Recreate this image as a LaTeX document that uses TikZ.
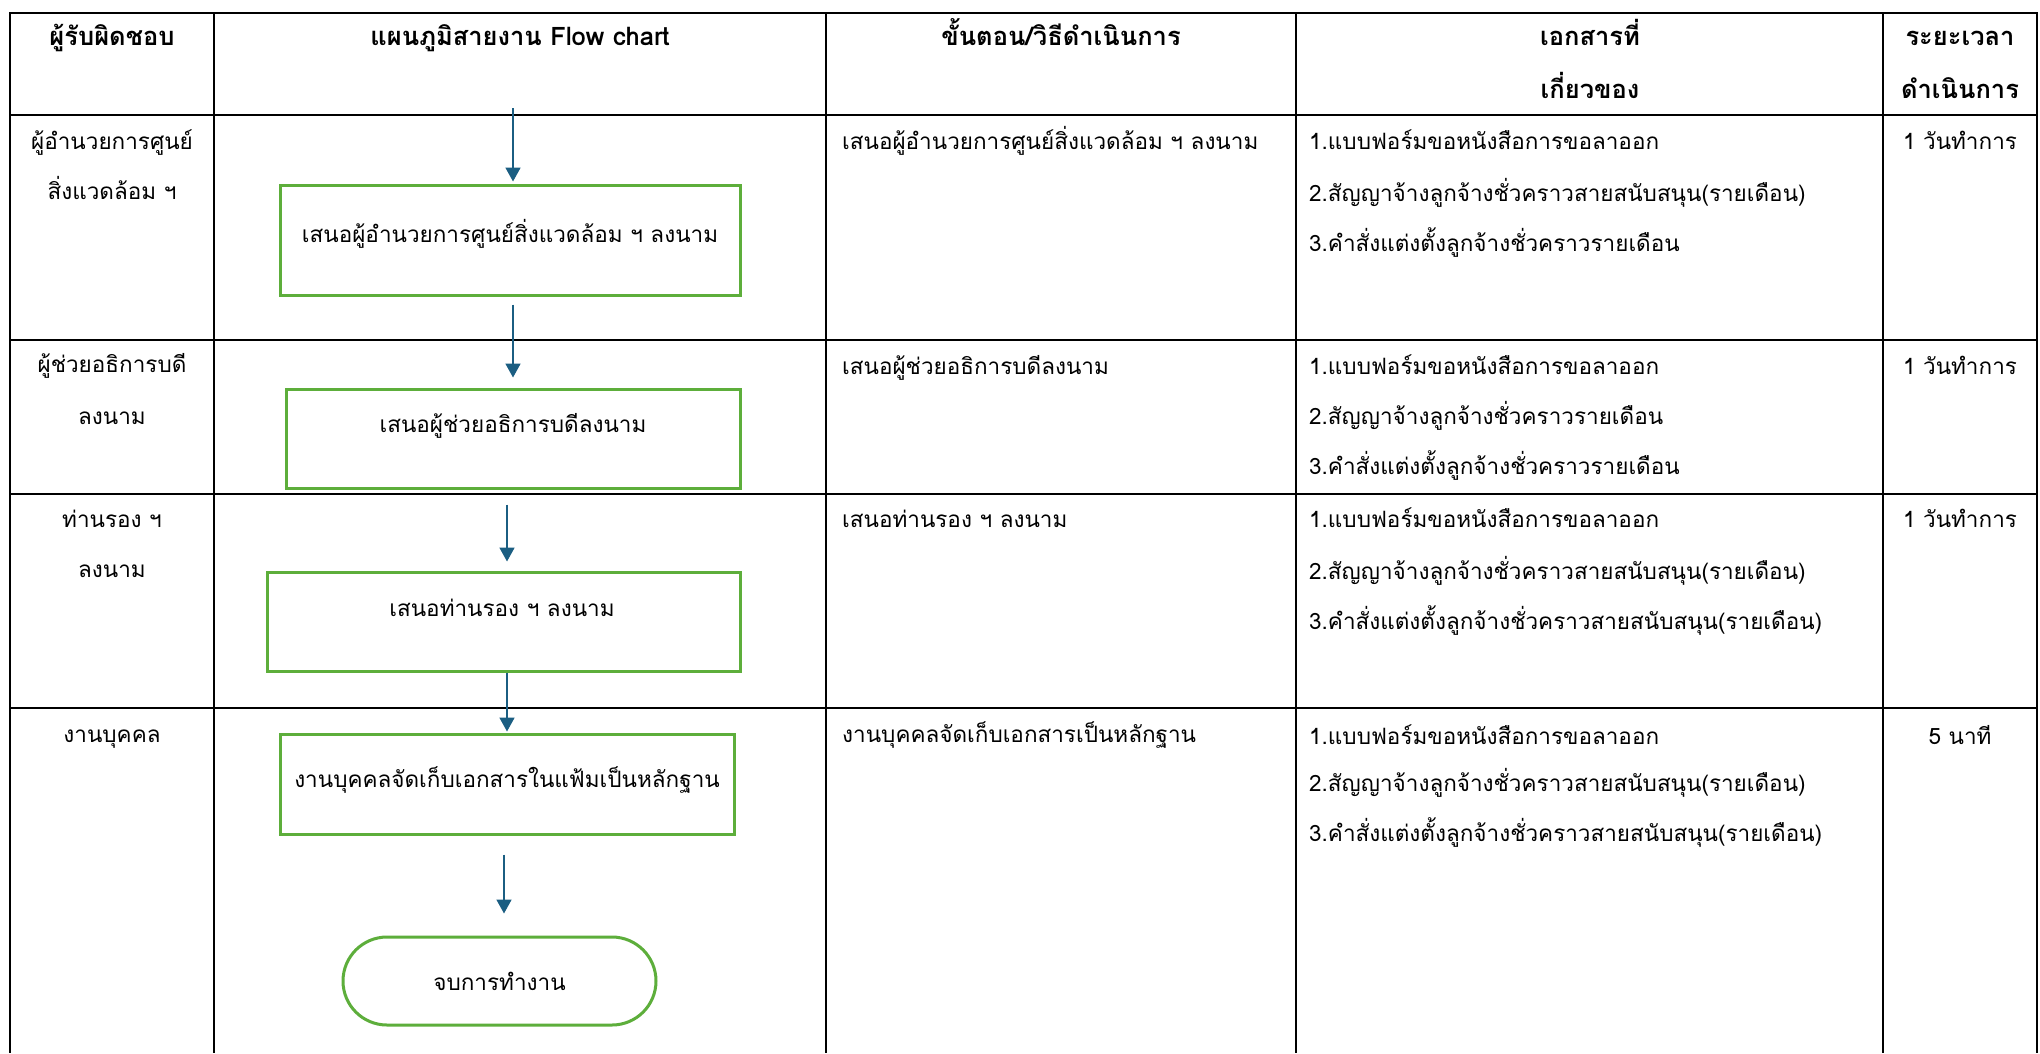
\documentclass[tikz,border=0pt]{standalone}
\usepackage{fontspec}
\setmainfont[Script=Thai]{Loma}
\usetikzlibrary{arrows.meta}
\definecolor{flowgreen}{HTML}{5DAE3B}
\definecolor{flowblue}{HTML}{1B5E82}
\newcommand{\cellfont}{\fontsize{22.5pt}{27pt}\selectfont}
\newcommand{\headfont}{\fontsize{25.5pt}{30pt}\selectfont\bfseries}
\tikzset{
  x=1pt, y=-1pt,
  rule/.style={line width=2.8pt, black},
  stepbox/.style={draw=flowgreen, line width=3pt, inner sep=0pt},
  endbox/.style={draw=flowgreen, line width=3pt, rounded corners=44pt, inner sep=0pt,
    minimum width=313pt, minimum height=88pt, font=\cellfont},
  flow/.style={draw=flowblue, line width=1.8pt, -{Triangle[length=14pt,width=15pt]}},
  txtc/.style={anchor=base, inner sep=0pt, font=\cellfont},
  txtl/.style={anchor=base west, inner sep=0pt, font=\cellfont},
  head/.style={anchor=base, inner sep=0pt, font=\headfont},
}
\begin{document}
\begin{tikzpicture}
\useasboundingbox (0,0) rectangle (2040,1053);
\fill[white] (0,0) rectangle (2040,1053);

% table rules
\foreach \x in {10,214,826,1296,1883,2037}
  \draw[rule] (\x,12) -- (\x,1053);
\foreach \y in {13,115,340,494,708}
  \draw[rule] (9,\y) -- (2038,\y);

% header
\node[head] (h1) at (112,45) {ผู้รับผิดชอบ};
\node[head] (h2) at (520,45) {แผนภูมิสายงาน Flow chart};
\node[head] (h3) at (1061,45) {ขั้นตอน/วิธีดำเนินการ};
\node[head] (h4a) at (1590,45) {เอกสารที่};
\node[head] (h4b) at (1590,98) {เกี่ยวของ};
\node[head] (h5a) at (1960,45) {ระยะเวลา};
\node[head] (h5b) at (1960,98) {ดำเนินการ};

% responsible
\node[txtc] (r1a) at (112,149) {ผู้อำนวยการศูนย์};
\node[txtc] (r1b) at (112,199) {สิ่งแวดล้อม ฯ};
\node[txtc] (r2a) at (112,372) {ผู้ช่วยอธิการบดี};
\node[txtc] (r2b) at (112,424) {ลงนาม};
\node[txtc] (r3a) at (112,527) {ท่านรอง ฯ};
\node[txtc] (r3b) at (112,577) {ลงนาม};
\node[txtc] (r4a) at (112,742) {งานบุคคล};

% procedure
\node[txtl] (p1) at (842,149) {เสนอผู้อำนวยการศูนย์สิ่งแวดล้อม ฯ ลงนาม};
\node[txtl] (p2) at (842,374) {เสนอผู้ช่วยอธิการบดีลงนาม};
\node[txtl] (p3) at (842,527) {เสนอท่านรอง ฯ ลงนาม};
\node[txtl] (p4) at (842,742) {งานบุคคลจัดเก็บเอกสารเป็นหลักฐาน};

% documents
\node[txtl] (d11) at (1309,149) {1.แบบฟอร์มขอหนังสือการขอลาออก};
\node[txtl] (d12) at (1309,201) {2.สัญญาจ้างลูกจ้างชั่วคราวสายสนับสนุน(รายเดือน)};
\node[txtl] (d13) at (1309,251) {3.คำสั่งแต่งตั้งลูกจ้างชั่วคราวรายเดือน};
\node[txtl] (d21) at (1309,374) {1.แบบฟอร์มขอหนังสือการขอลาออก};
\node[txtl] (d22) at (1309,424) {2.สัญญาจ้างลูกจ้างชั่วคราวรายเดือน};
\node[txtl] (d23) at (1309,474) {3.คำสั่งแต่งตั้งลูกจ้างชั่วคราวรายเดือน};
\node[txtl] (d31) at (1309,527) {1.แบบฟอร์มขอหนังสือการขอลาออก};
\node[txtl] (d32) at (1309,579) {2.สัญญาจ้างลูกจ้างชั่วคราวสายสนับสนุน(รายเดือน)};
\node[txtl] (d33) at (1309,629) {3.คำสั่งแต่งตั้งลูกจ้างชั่วคราวสายสนับสนุน(รายเดือน)};
\node[txtl] (d41) at (1309,744) {1.แบบฟอร์มขอหนังสือการขอลาออก};
\node[txtl] (d42) at (1309,791) {2.สัญญาจ้างลูกจ้างชั่วคราวสายสนับสนุน(รายเดือน)};
\node[txtl] (d43) at (1309,841) {3.คำสั่งแต่งตั้งลูกจ้างชั่วคราวสายสนับสนุน(รายเดือน)};

% duration
\node[txtc] (t1) at (1960,149) {1 วันทำการ};
\node[txtc] (t2) at (1960,374) {1 วันทำการ};
\node[txtc] (t3) at (1960,527) {1 วันทำการ};
\node[txtc] (t4) at (1960,744) {5 นาที};

% flow chart boxes
\node[stepbox, minimum width=460pt, minimum height=110pt] (b1) at (510,240) {};
\node[txtc] (b1t) at (510,242) {เสนอผู้อำนวยการศูนย์สิ่งแวดล้อม ฯ ลงนาม};
\node[stepbox, minimum width=454pt, minimum height=99pt] (b2) at (513,438.5) {};
\node[txtc] (b2t) at (513,432) {เสนอผู้ช่วยอธิการบดีลงนาม};
\node[stepbox, minimum width=473pt, minimum height=99pt] (b3) at (503.5,621.5) {};
\node[txtc] (b3t) at (502,616) {เสนอท่านรอง ฯ ลงนาม};
\node[stepbox, minimum width=454pt, minimum height=100pt] (b4) at (507,784) {};
\node[txtc] (b4t) at (507,787) {งานบุคคลจัดเก็บเอกสารในแฟ้มเป็นหลักฐาน};
\node[endbox] (e) at (499.5,981) {\raisebox{-4pt}{จบการทำงาน}};

% arrow columns
\coordinate (s0) at (513,108);
\coordinate (ax2) at (513,0);
\coordinate (ax3) at (507,0);
\coordinate (ax5) at (504,0);

% connectors
\draw[flow, shorten >=2pt] (s0) -- (s0 |- b1.north);
\draw[flow, shorten <=8pt, shorten >=10pt] (b1.south -| ax2) -- (b2.north -| ax2);
\draw[flow, shorten <=15pt, shorten >=9pt] (b2.south -| ax3) -- (b3.north -| ax3);
\draw[flow, shorten >=1pt] (b3.south -| ax3) -- (b4.north -| ax3);
\draw[flow, shorten <=19pt, shorten >=22pt] (b4.south -| ax5) -- (e.north -| ax5);
\end{tikzpicture}
\end{document}
